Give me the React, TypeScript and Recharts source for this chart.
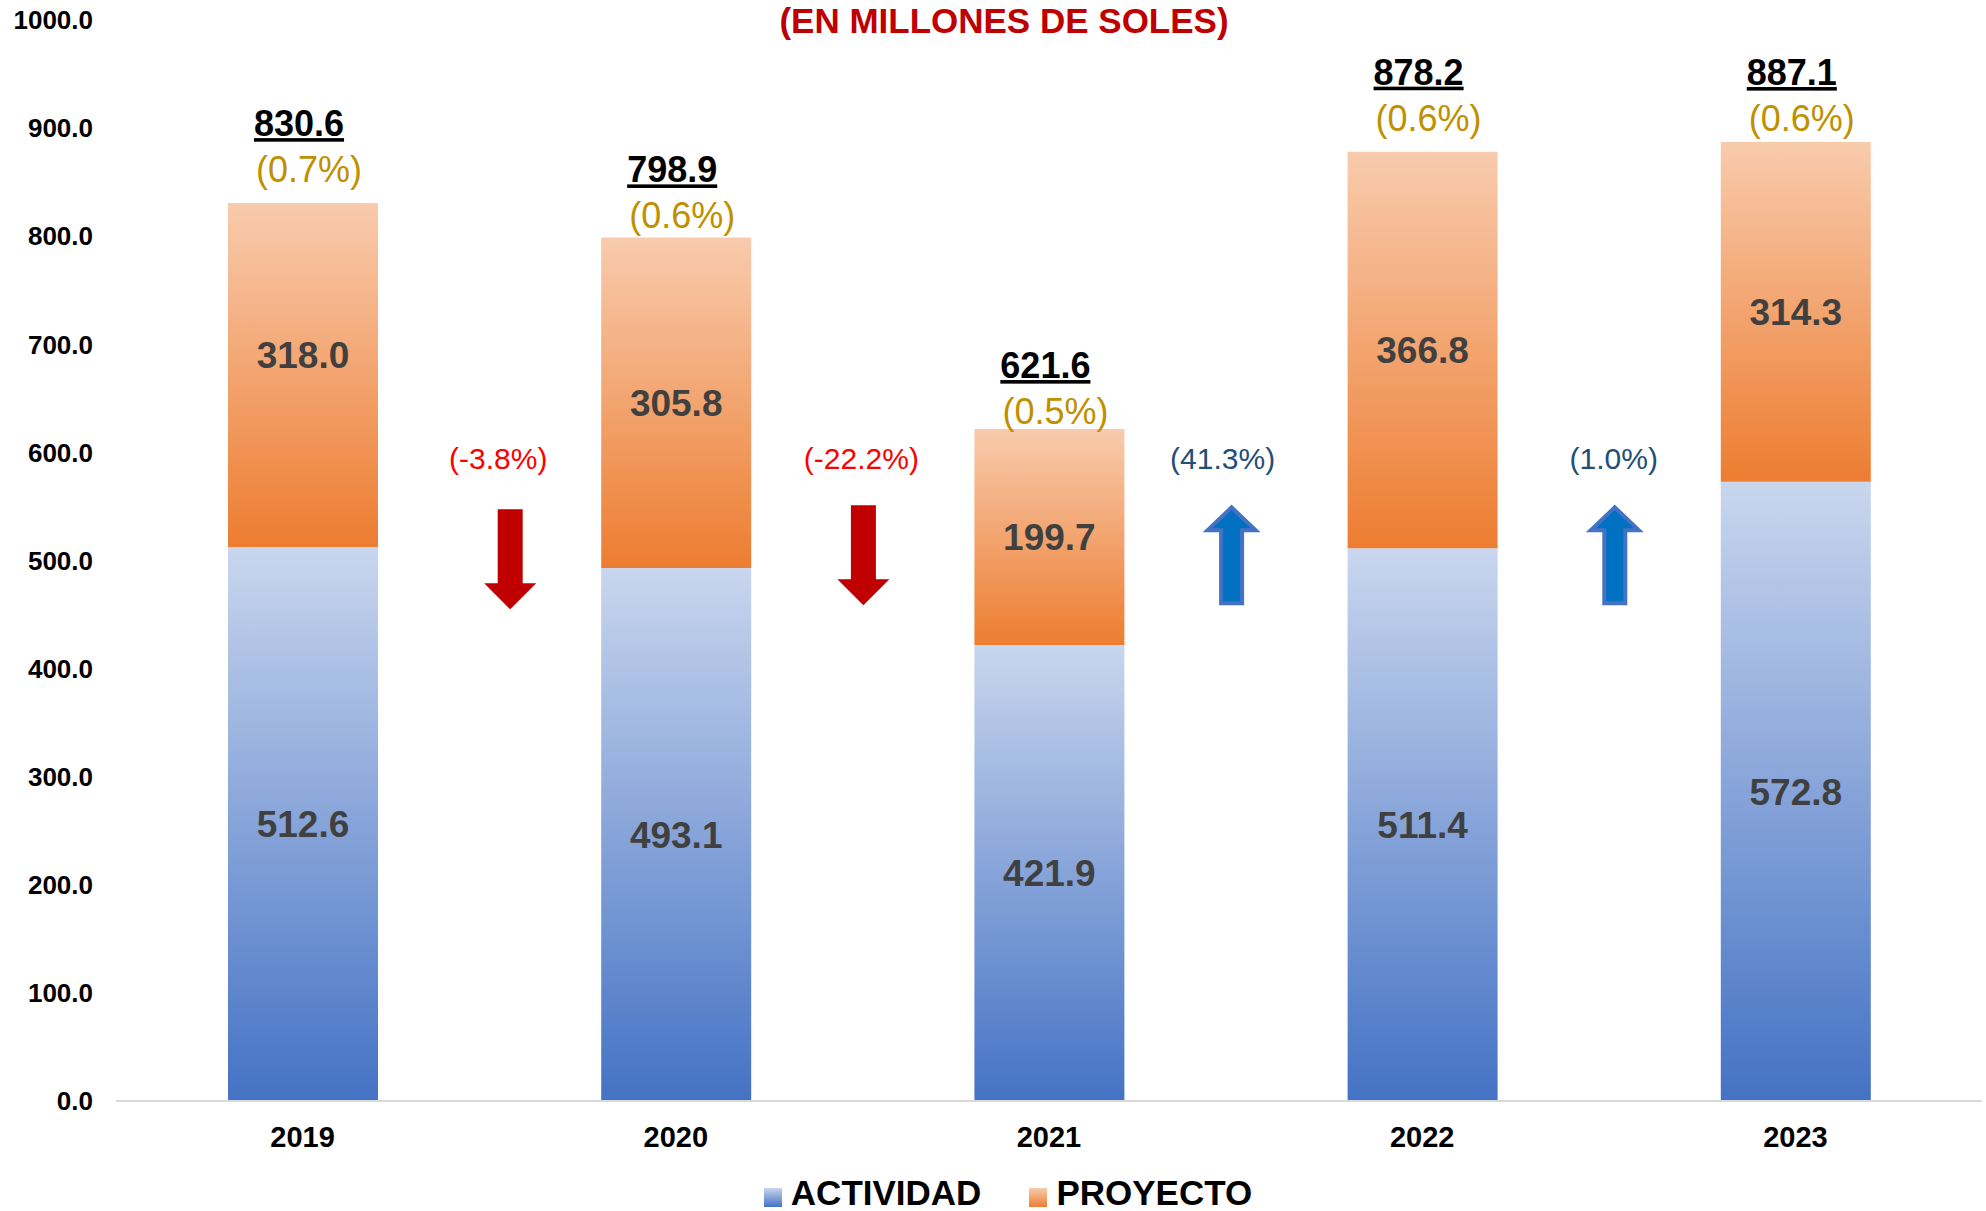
import React from 'react';
import { BarChart, Bar, XAxis, YAxis, LabelList, Legend, ReferenceArea } from 'recharts';

const years = ['2019', '2020', '2021', '2022', '2023'];
const actividad = [512.6, 493.1, 421.9, 511.4, 572.8];
const proyecto = [318.0, 305.8, 199.7, 366.8, 314.3];
const totals = [830.6, 798.9, 621.6, 878.2, 887.1];
const shares = [0.7, 0.6, 0.5, 0.6, 0.6];
const changes = [-3.8, -22.2, 41.3, 1.0];
const yTicks = [0, 100, 200, 300, 400, 500, 600, 700, 800, 900, 1000];
const seriesNames = ['ACTIVIDAD', 'PROYECTO'];
const title = '(EN MILLONES DE SOLES)';

const data = years.map((year, i) => ({
  year,
  actividad: actividad[i],
  proyecto: proyecto[i],
  total: totals[i],
}));

const FONT = '"Liberation Sans", Arial, Helvetica, sans-serif';
const Y_MAX = 1000;
const CHANGE_LABEL_LEVEL = 585;
const ARROW_TOP_LEVEL = 551;

// manual label nudges (px), as placed by hand in the original
const TOP_LABEL_NUDGE = [0, 12, 16, 0, 10];
const PROJ_LABEL_NUDGE = [-20, 0, 0, 0, 0];
const CHANGE_TEXT_NUDGE = [9, -1, -13, 5];
const CHANGE_ARROW_NUDGE = [21, 1, -4, 6];
const CHANGE_ARROW_DROP = [4, 0, 0, 0];

const TopLabel = (props: any) => {
  const vb = props.viewBox || {};
  const x = vb.x ?? props.x;
  const y = (vb.y ?? props.y) + TOP_LABEL_NUDGE[props.index];
  const w = vb.width ?? props.width;
  const i = props.index;
  const cx = x + w / 2;
  return (
    <g>
      <text
        x={cx - 4}
        y={y - 67}
        textAnchor="middle"
        fontSize={36}
        fontWeight={700}
        fill="#000"
        style={{ textDecoration: 'underline' }}
      >
        {totals[i].toFixed(1)}
      </text>
      <text x={cx + 6} y={y - 21} textAnchor="middle" fontSize={36} fill="#BF9000">
        ({shares[i].toFixed(1)}%)
      </text>
    </g>
  );
};

const SegLabel = (props: any) => {
  const vb = props.viewBox || {};
  const x = vb.x ?? props.x;
  const y = vb.y ?? props.y;
  const w = vb.width ?? props.width;
  const h = vb.height ?? props.height;
  const nudge = props.nudge ? props.nudge[props.index] : 0;
  return (
    <text
      x={x + w / 2}
      y={y + h / 2 + nudge}
      dy="0.355em"
      textAnchor="middle"
      fontSize={37}
      fontWeight={700}
      fill="#404040"
    >
      {Number(props.value).toFixed(1)}
    </text>
  );
};

const ChangeMark = (props: any) => {
  const { x, y, width, height, change, idx } = props;
  const cx = x + width / 2;
  const py = (v: number) => y + height * (1 - v / Y_MAX);
  const up = change >= 0;
  const ty = py(CHANGE_LABEL_LEVEL);
  const aTop = py(ARROW_TOP_LEVEL) + CHANGE_ARROW_DROP[idx];
  const len = 100;
  const head = 26;
  const hw = 26;
  const sw = 12.5;
  const ax = cx + CHANGE_ARROW_NUDGE[idx];
  let arrow;
  if (up) {
    const i = 2;
    const pts = [
      [ax, aTop + i],
      [ax + hw - i, aTop + head - i / 2],
      [ax + sw - i, aTop + head - i / 2],
      [ax + sw - i, aTop + len - i],
      [ax - sw + i, aTop + len - i],
      [ax - sw + i, aTop + head - i / 2],
      [ax - hw + i, aTop + head - i / 2],
    ];
    arrow = (
      <polygon
        points={pts.map((p) => p.join(',')).join(' ')}
        fill="#0070C0"
        stroke="#4472C4"
        strokeWidth={4}
        strokeLinejoin="miter"
      />
    );
  } else {
    const pts = [
      [ax - sw, aTop],
      [ax + sw, aTop],
      [ax + sw, aTop + len - head],
      [ax + hw, aTop + len - head],
      [ax, aTop + len],
      [ax - hw, aTop + len - head],
      [ax - sw, aTop + len - head],
    ];
    arrow = <polygon points={pts.map((p) => p.join(',')).join(' ')} fill="#C00000" />;
  }
  return (
    <g>
      <text
        x={cx + CHANGE_TEXT_NUDGE[idx]}
        y={ty}
        textAnchor="middle"
        fontSize={30}
        fill={up ? '#1F4E79' : '#FF0000'}
      >
        ({change.toFixed(1)}%)
      </text>
      {arrow}
    </g>
  );
};

const LegendContent = () => (
  <div
    style={{
      display: 'flex',
      justifyContent: 'center',
      alignItems: 'flex-end',
      paddingLeft: 30,
      fontFamily: FONT,
      fontSize: 35,
      fontWeight: 700,
      color: '#000',
      lineHeight: '35px',
    }}
  >
    {seriesNames.map((name, i) => (
      <div
        key={name}
        style={{ display: 'flex', alignItems: 'flex-end', marginRight: i === 0 ? 48 : 0 }}
      >
        <div
          style={{
            width: 18,
            height: 19,
            marginRight: 9,
            marginBottom: 3,
            background:
              i === 0
                ? 'linear-gradient(#C9D6EE, #4472C4)'
                : 'linear-gradient(#F8CBAD, #ED7D31)',
          }}
        />
        <span>{name}</span>
      </div>
    ))}
  </div>
);

export default function App() {
  return (
    <div
      style={{
        position: 'absolute',
        left: 0,
        top: 0,
        width: 1986,
        height: 1211,
        background: '#fff',
        fontFamily: FONT,
      }}
    >
      <BarChart
        width={1986}
        height={1211}
        data={data}
        margin={{ top: 20, right: 4, left: 0, bottom: 50 }}
        barSize={150}
      >
        <defs>
          <linearGradient id="gradAct" x1="0" y1="0" x2="0" y2="1">
            <stop offset="0%" stopColor="#C9D6EE" />
            <stop offset="100%" stopColor="#4472C4" />
          </linearGradient>
          <linearGradient id="gradProj" x1="0" y1="0" x2="0" y2="1">
            <stop offset="0%" stopColor="#F8CBAD" />
            <stop offset="100%" stopColor="#ED7D31" />
          </linearGradient>
        </defs>
        <XAxis
          dataKey="year"
          height={60}
          tickLine={false}
          tickSize={0}
          tickMargin={25}
          axisLine={{ stroke: '#D9D9D9', strokeWidth: 2 }}
          tick={{ fontSize: 29, fontWeight: 700, fill: '#000' }}
        />
        <YAxis
          width={116}
          domain={[0, Y_MAX]}
          ticks={yTicks}
          interval={0}
          axisLine={false}
          tickLine={false}
          tickSize={0}
          tickMargin={23}
          tickFormatter={(v: number) => v.toFixed(1)}
          tick={{ fontSize: 26, fontWeight: 700, fill: '#000' }}
        />
        {changes.map((c, i) => (
          <ReferenceArea
            key={i}
            x1={years[i]}
            x2={years[i + 1]}
            y1={0}
            y2={Y_MAX}
            ifOverflow="visible"
            shape={(p: any) => <ChangeMark {...p} change={c} idx={i} />}
          />
        ))}
        <Bar
          dataKey="actividad"
          name={seriesNames[0]}
          stackId="a"
          fill="url(#gradAct)"
          isAnimationActive={false}
        >
          <LabelList dataKey="actividad" content={(p: any) => <SegLabel {...p} />} />
        </Bar>
        <Bar
          dataKey="proyecto"
          name={seriesNames[1]}
          stackId="a"
          fill="url(#gradProj)"
          isAnimationActive={false}
        >
          <LabelList
            dataKey="proyecto"
            content={(p: any) => <SegLabel {...p} nudge={PROJ_LABEL_NUDGE} />}
          />
          <LabelList dataKey="total" content={TopLabel} />
        </Bar>
        <Legend
          verticalAlign="middle"
          content={LegendContent}
          wrapperStyle={{ top: 1175, left: 0, width: 1986 }}
        />
      </BarChart>
      <svg
        width={1986}
        height={60}
        style={{ position: 'absolute', left: 0, top: 0, pointerEvents: 'none' }}
      >
        <text
          x={1004}
          y={33}
          textAnchor="middle"
          fontSize={35}
          fontWeight={700}
          fill="#C00000"
          fontFamily={FONT}
        >
          {title}
        </text>
      </svg>
    </div>
  );
}
